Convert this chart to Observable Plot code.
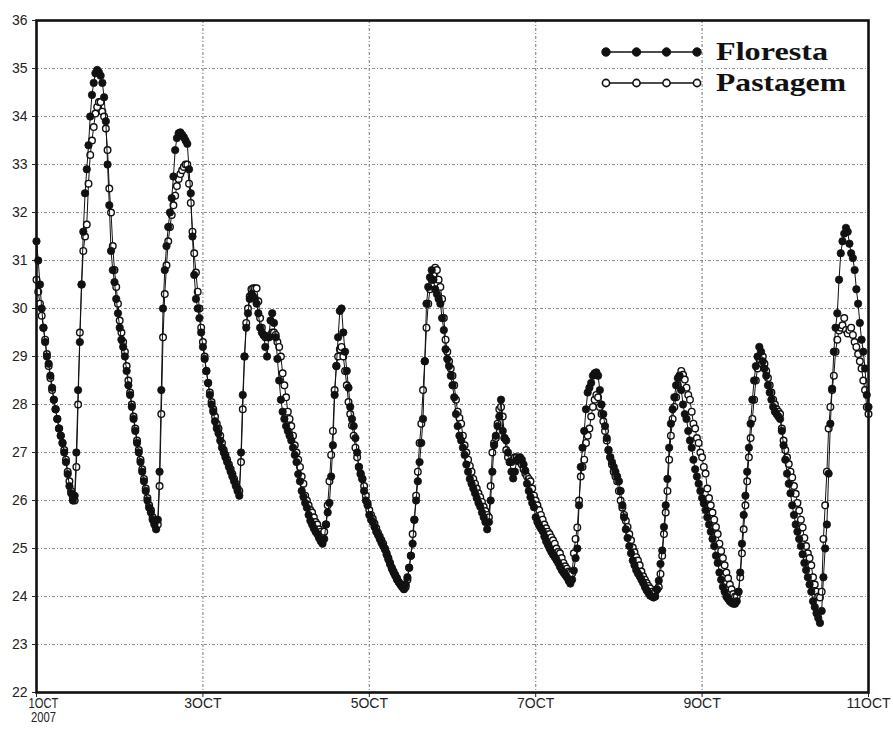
<!DOCTYPE html>
<html>
<head>
<meta charset="utf-8">
<script src="https://cdn.jsdelivr.net/npm/d3@7"></script>
<script src="https://cdn.jsdelivr.net/npm/@observablehq/plot@0.6"></script>
<style>
  html, body { margin: 0; padding: 0; background: #fff; }
  #wrap { position: relative; width: 893px; height: 733px; }
  #legend { position: absolute; left: 0; top: 0; pointer-events: none; }
</style>
</head>
<body>
<div id="wrap"></div>
<script>
// ---- data: half-hourly temperature (°C), starting 1 Oct 2007 00h ----
const startYear = 2007, startMonth = 9, startDay = 1;
const stepHours = 0.5;
const seriesNames = ["Floresta", "Pastagem"];

const floresta = [
  // 1 Oct
  31.4, 31.0, 30.5, 30.0, 29.6, 29.3, 29.0, 28.85, 28.6, 28.35,
  28.1, 27.9, 27.7, 27.5, 27.35, 27.2, 27.0, 26.8, 26.55, 26.3,
  26.15, 26.0, 26.1, 27.0, 28.3, 29.3, 30.5, 31.6, 32.4, 32.9,
  33.4, 34.0, 34.45, 34.7, 34.9, 34.97, 34.92, 34.85, 34.7, 34.4,
  33.9, 33.0, 32.15, 31.2, 30.8, 30.55, 30.2, 29.9,
  // 2 Oct
  29.6, 29.35, 29.2, 29.0, 28.7, 28.4, 28.2, 27.95, 27.7, 27.45,
  27.2, 27.0, 26.8, 26.6, 26.4, 26.2, 26.0, 25.85, 25.75, 25.6,
  25.5, 25.4, 25.6, 26.6, 28.3, 30.0, 30.8, 31.3, 31.7, 32.0,
  32.3, 32.75, 33.3, 33.55, 33.65, 33.67, 33.62, 33.57, 33.5, 33.43,
  32.9, 32.4, 31.5, 30.7, 30.2, 30.0, 29.8, 29.5,
  // 3 Oct
  29.2, 28.95, 28.7, 28.45, 28.2, 28.0, 27.85, 27.65, 27.5, 27.4,
  27.25, 27.1, 27.0, 26.9, 26.8, 26.7, 26.6, 26.5, 26.4, 26.3,
  26.2, 26.1, 27.0, 28.2, 29.0, 29.6, 29.9, 30.2, 30.3, 30.25,
  30.2, 30.1, 29.9, 29.6, 29.5, 29.45, 29.2, 29.0, 29.4, 29.75,
  29.9, 29.7, 29.4, 28.95, 28.5, 28.1, 27.85, 27.7,
  // 4 Oct
  27.55, 27.45, 27.35, 27.25, 27.1, 26.95, 26.8, 26.55, 26.4, 26.2,
  26.08, 25.95, 25.85, 25.7, 25.58, 25.5, 25.42, 25.35, 25.3, 25.22,
  25.15, 25.1, 25.2, 25.5, 25.75, 25.95, 26.5, 27.15, 28.2, 28.8,
  29.4, 29.95, 30.0, 29.5, 29.1, 28.7, 28.35, 27.95, 27.7, 27.55,
  27.3, 27.0, 26.7, 26.55, 26.45, 26.2, 26.0, 25.9,
  // 5 Oct
  25.7, 25.6, 25.55, 25.45, 25.35, 25.28, 25.2, 25.12, 25.05, 24.98,
  24.87, 24.77, 24.67, 24.58, 24.5, 24.43, 24.35, 24.3, 24.25, 24.2,
  24.16, 24.25, 24.4, 24.6, 24.85, 25.1, 25.6, 26.0, 26.4, 26.8,
  27.2, 27.7, 28.9, 30.1, 30.45, 30.65, 30.8, 30.6, 30.4, 30.3,
  30.2, 30.1, 29.8, 29.55, 29.15, 28.95, 28.8, 28.6,
  // 6 Oct
  28.4, 28.15, 27.8, 27.55, 27.35, 27.25, 27.1, 26.95, 26.75, 26.6,
  26.45, 26.35, 26.25, 26.15, 26.05, 25.95, 25.87, 25.75, 25.65, 25.55,
  25.4, 25.55, 26.0, 26.6, 27.15, 27.35, 27.55, 27.75, 28.1, 27.45,
  27.3, 27.25, 27.0, 26.8, 26.6, 26.46, 26.6, 26.83, 26.88, 26.9,
  26.85, 26.75, 26.62, 26.35, 26.2, 26.07, 25.95, 25.86,
  // 7 Oct
  25.65, 25.55, 25.48, 25.42, 25.36, 25.25, 25.15, 25.08, 25.0, 24.93,
  24.87, 24.82, 24.76, 24.7, 24.62, 24.55, 24.5, 24.45, 24.4, 24.33,
  24.27, 24.35, 24.54, 24.8, 25.0, 25.9, 26.7, 27.1, 27.45, 27.9,
  28.25, 28.35, 28.45, 28.6, 28.65, 28.67, 28.6, 28.3, 28.0, 27.8,
  27.55, 27.3, 27.05, 26.9, 26.8, 26.7, 26.6, 26.5,
  // 8 Oct
  26.4, 26.2, 25.9, 25.65, 25.4, 25.22, 25.05, 24.9, 24.75, 24.65,
  24.55, 24.48, 24.42, 24.35, 24.28, 24.2, 24.13, 24.08, 24.02, 24.0,
  23.98, 24.0, 24.15, 24.33, 24.68, 24.96, 25.45, 25.9, 26.45, 27.1,
  27.6, 27.9, 28.15, 28.4, 28.55, 28.6, 28.3, 28.0, 27.8, 27.7,
  27.45, 27.25, 27.1, 26.85, 26.65, 26.5, 26.35, 26.2,
  // 9 Oct
  26.05, 25.94, 25.8, 25.65, 25.5, 25.35, 25.2, 25.05, 24.85, 24.7,
  24.5, 24.35, 24.2, 24.1, 24.0, 23.95, 23.9, 23.87, 23.85, 23.85,
  23.9, 24.1, 24.5, 25.1, 25.7, 26.1, 26.6, 27.1, 27.6, 28.1,
  28.5, 28.8, 29.0, 29.2, 29.1, 28.9, 28.75, 28.6, 28.4, 28.25,
  28.1, 27.95, 27.85, 27.8, 27.75, 27.7, 27.45, 27.15,
  // 10 Oct
  26.85, 26.56, 26.35, 26.15, 25.9, 25.7, 25.5, 25.35, 25.2, 25.05,
  24.88, 24.7, 24.55, 24.4, 24.25, 24.1, 23.9, 23.78, 23.65, 23.55,
  23.45, 23.7, 24.4, 25.0, 25.5, 26.56, 27.6, 28.33, 29.1, 29.6,
  29.9, 30.6, 31.15, 31.4, 31.56, 31.68, 31.6, 31.35, 31.15, 31.05,
  30.8, 30.4, 30.1, 29.7, 29.35, 29.1, 28.75, 28.2,
  // 11 Oct 00h
  27.95
];

const pastagem = [
  // 1 Oct
  30.6, 30.35, 30.1, 29.85, 29.6, 29.35, 29.05, 28.8, 28.55, 28.3,
  28.1, 27.9, 27.7, 27.5, 27.35, 27.2, 27.05, 26.85, 26.6, 26.4,
  26.2, 26.05, 26.0, 26.7, 28.0, 29.5, 30.5, 31.2, 31.5, 31.75,
  32.6, 33.2, 33.5, 33.78, 34.06, 34.2, 34.3, 34.3, 34.1, 34.0,
  33.75, 33.3, 32.5, 32.0, 31.3, 30.8, 30.45, 30.1,
  // 2 Oct
  29.75, 29.5, 29.3, 29.1, 28.8, 28.5, 28.25, 28.0, 27.75, 27.5,
  27.25, 27.05, 26.85, 26.65, 26.45, 26.25, 26.05, 25.9, 25.8, 25.65,
  25.55, 25.45, 25.5, 26.3, 27.8, 29.4, 30.3, 30.9, 31.4, 31.7,
  31.95, 32.15, 32.35, 32.55, 32.7, 32.8, 32.88, 32.95, 33.0, 33.0,
  32.6, 32.2, 31.6, 31.15, 30.75, 30.35, 30.0, 29.6,
  // 3 Oct
  29.3, 29.0, 28.7, 28.45, 28.25, 28.05, 27.9, 27.75, 27.6, 27.5,
  27.35, 27.2, 27.05, 26.95, 26.85, 26.75, 26.65, 26.55, 26.45, 26.35,
  26.25, 26.2, 26.8, 27.9, 29.0, 29.7, 30.0, 30.25, 30.4, 30.42,
  30.42, 30.42, 30.15, 29.8, 29.6, 29.45, 29.4, 29.4, 29.4, 29.45,
  29.5, 29.5, 29.45, 29.3, 29.2, 29.0, 28.65, 28.4,
  // 4 Oct
  28.15, 27.85, 27.7, 27.55, 27.35, 27.15, 27.0, 26.85, 26.7, 26.5,
  26.35, 26.1, 26.0, 25.9, 25.8, 25.75, 25.65, 25.55, 25.5, 25.4,
  25.35, 25.3, 25.35, 25.5, 25.9, 26.4, 26.95, 27.45, 28.3, 28.8,
  29.0, 29.15, 29.2, 29.0, 28.7, 28.4, 28.05, 27.8, 27.56, 27.35,
  27.1, 26.9, 26.7, 26.56, 26.45, 26.3, 26.1, 25.95,
  // 5 Oct
  25.8, 25.7, 25.62, 25.52, 25.42, 25.33, 25.25, 25.17, 25.1, 25.0,
  24.9, 24.8, 24.7, 24.6, 24.52, 24.45, 24.38, 24.3, 24.25, 24.2,
  24.15, 24.2, 24.35, 24.6, 24.85, 25.3, 25.6, 26.1, 26.6, 27.2,
  27.6, 28.3, 28.9, 29.6, 30.1, 30.4, 30.6, 30.7, 30.85, 30.8,
  30.6, 30.45, 30.2, 29.8, 29.35, 29.1, 28.9, 28.75,
  // 6 Oct
  28.6, 28.4, 28.1, 27.85, 27.72, 27.6, 27.35, 27.15, 27.0, 26.85,
  26.72, 26.6, 26.45, 26.35, 26.25, 26.15, 26.07, 25.97, 25.87, 25.78,
  25.7, 25.65, 26.3, 27.0, 27.2, 27.3, 27.6, 27.9, 27.95, 27.75,
  27.3, 27.05, 26.9, 26.8, 26.8, 26.85, 26.9, 26.9, 26.85, 26.8,
  26.75, 26.65, 26.56, 26.5, 26.45, 26.4, 26.25, 26.1,
  // 7 Oct
  26.0, 25.9, 25.8, 25.7, 25.6, 25.5, 25.42, 25.35, 25.3, 25.23,
  25.17, 25.1, 25.0, 24.93, 24.9, 24.8, 24.7, 24.63, 24.58, 24.52,
  24.5, 24.48, 24.9, 25.2, 25.44, 26.0, 26.5, 26.7, 26.85, 27.2,
  27.35, 27.5, 27.75, 27.95, 28.1, 28.2, 28.15, 27.95, 27.8, 27.65,
  27.45, 27.25, 27.05, 26.9, 26.75, 26.6, 26.5, 26.4,
  // 8 Oct
  26.2, 26.0, 25.85, 25.7, 25.58, 25.45, 25.3, 25.17, 25.02, 24.92,
  24.82, 24.75, 24.65, 24.52, 24.42, 24.35, 24.28, 24.22, 24.17, 24.1,
  24.06, 24.1, 24.15, 24.2, 24.47, 24.85, 25.3, 25.75, 26.2, 26.85,
  27.35, 27.7, 27.95, 28.15, 28.4, 28.6, 28.7, 28.62, 28.52, 28.35,
  28.2, 28.1, 27.85, 27.6, 27.5, 27.3, 27.2, 27.0,
  // 9 Oct
  26.9, 26.7, 26.56, 26.25, 26.05, 25.9, 25.75, 25.6, 25.45, 25.3,
  25.1, 24.95, 24.8, 24.65, 24.5, 24.38, 24.25, 24.15, 24.05, 24.0,
  24.0, 24.1, 24.4, 24.9, 25.4, 25.9, 26.4, 26.9, 27.3, 27.7,
  28.1, 28.5, 28.75, 28.95, 29.05, 29.0, 28.85, 28.7, 28.55, 28.4,
  28.25, 28.1, 28.0, 27.9, 27.85, 27.8, 27.5, 27.25,
  // 10 Oct
  27.05, 26.9, 26.76, 26.6, 26.48, 26.3, 26.14, 25.95, 25.79, 25.6,
  25.44, 25.22, 25.05, 24.9, 24.8, 24.65, 24.4, 24.25, 24.1, 24.0,
  23.98, 24.1, 25.2, 25.9, 26.6, 27.5, 27.95, 28.3, 28.6, 29.1,
  29.35, 29.54, 29.6, 29.65, 29.8, 29.55, 29.48, 29.55, 29.6, 29.45,
  29.3, 29.2, 29.05, 28.9, 28.75, 28.5, 28.3, 27.95,
  // 11 Oct 00h
  27.8
];

// ---- axes ----
const xTickDays = [1, 3, 5, 7, 9, 11];
const xTickLabels = ["1OCT\n2007", "3OCT", "5OCT", "7OCT", "9OCT", "11OCT"];
const xGridDays = [3, 5, 7, 9];
const yTicks = [22, 23, 24, 25, 26, 27, 28, 29, 30, 31, 32, 33, 34, 35, 36];
const yGrid = [23, 24, 25, 26, 27, 28, 29, 30, 31, 32, 33, 34, 35];
const yDomain = [22, 36];

// ---- build rows ----
const t0 = Date.UTC(startYear, startMonth, startDay);
const dayDate = d => new Date(Date.UTC(startYear, startMonth, d));
const toRows = (vals, name) => vals.map((v, i) => ({
  t: new Date(t0 + i * stepHours * 3600e3), v, name
}));
const rowsF = toRows(floresta, seriesNames[0]);
const rowsP = toRows(pastagem, seriesNames[1]);
const xTicks = xTickDays.map(dayDate);

const chart = Plot.plot({
  width: 893,
  height: 733,
  marginLeft: 36,
  marginRight: 25,
  marginTop: 20,
  marginBottom: 41,
  style: { fontFamily: "'Liberation Sans', Arial, sans-serif", fontSize: "14px", background: "#fff", color: "#222" },
  x: {
    type: "utc",
    domain: [dayDate(xTickDays[0]), dayDate(xTickDays[xTickDays.length - 1])],
    ticks: xTicks,
    tickFormat: (d) => xTickLabels[xTicks.findIndex(t => +t === +d)],
    tickSize: 5,
    tickPadding: 1,
    label: null
  },
  y: {
    domain: yDomain,
    ticks: yTicks,
    tickSize: 4,
    tickPadding: 5,
    label: null
  },
  marks: [
    Plot.gridY(yGrid, { stroke: "#8a8a8a", strokeOpacity: 1, strokeWidth: 1.2, strokeDasharray: "3,2,1,2" }),
    Plot.gridX(xGridDays.map(dayDate), { stroke: "#8a8a8a", strokeOpacity: 1, strokeWidth: 1.2, strokeDasharray: "3,2,1,2" }),
    Plot.line(rowsP, { x: "t", y: "v", stroke: "#111", strokeWidth: 1 }),
    Plot.dot(rowsP, { x: "t", y: "v", r: 3.3, fill: "#fff", stroke: "#111", strokeWidth: 1.4 }),
    Plot.line(rowsF, { x: "t", y: "v", stroke: "#111", strokeWidth: 1 }),
    Plot.dot(rowsF, { x: "t", y: "v", r: 3.7, fill: "#111", stroke: "#111", strokeWidth: 0.8 }),
    Plot.frame({ stroke: "#111", strokeWidth: 2.6 })
  ]
});

const wrap = document.getElementById("wrap");
wrap.appendChild(chart);

// first x label ("1OCT / 2007"): narrower and nudged right so it clears the "22" label
d3.select(chart).selectAll('g[aria-label="x-axis tick label"] text').each(function (d, i) {
  if (i !== 0) return;
  const tr = this.getAttribute("transform") || "";
  this.setAttribute("transform", tr + " translate(7,0) scale(0.8,1)");
});

// ---- legend (inside the plot, top-right) ----
const legendItems = [
  { name: seriesNames[0], filled: true },
  { name: seriesNames[1], filled: false }
];
const legendTextWidths = [112, 130];
const svg = d3.select(wrap).append("svg")
  .attr("id", "legend").attr("width", 893).attr("height", 733);
legendItems.forEach((it, k) => {
  const cy = 52 + k * 31;
  const g = svg.append("g");
  g.append("line").attr("x1", 606).attr("x2", 697).attr("y1", cy).attr("y2", cy)
    .attr("stroke", "#111").attr("stroke-width", 1.6);
  [606, 636.5, 666.5, 697].forEach(cx => {
    g.append("circle").attr("cx", cx).attr("cy", cy).attr("r", it.filled ? 4.2 : 3.6)
      .attr("fill", it.filled ? "#111" : "#fff").attr("stroke", "#111")
      .attr("stroke-width", it.filled ? 1 : 1.6);
  });
  g.append("text").attr("x", 716).attr("y", cy + 8)
    .attr("font-family", "'Liberation Serif', 'Times New Roman', serif")
    .attr("font-weight", "bold").attr("font-size", 26).attr("fill", "#111")
    .attr("textLength", legendTextWidths[k]).attr("lengthAdjust", "spacingAndGlyphs")
    .text(it.name);
});
</script>
</body>
</html>
